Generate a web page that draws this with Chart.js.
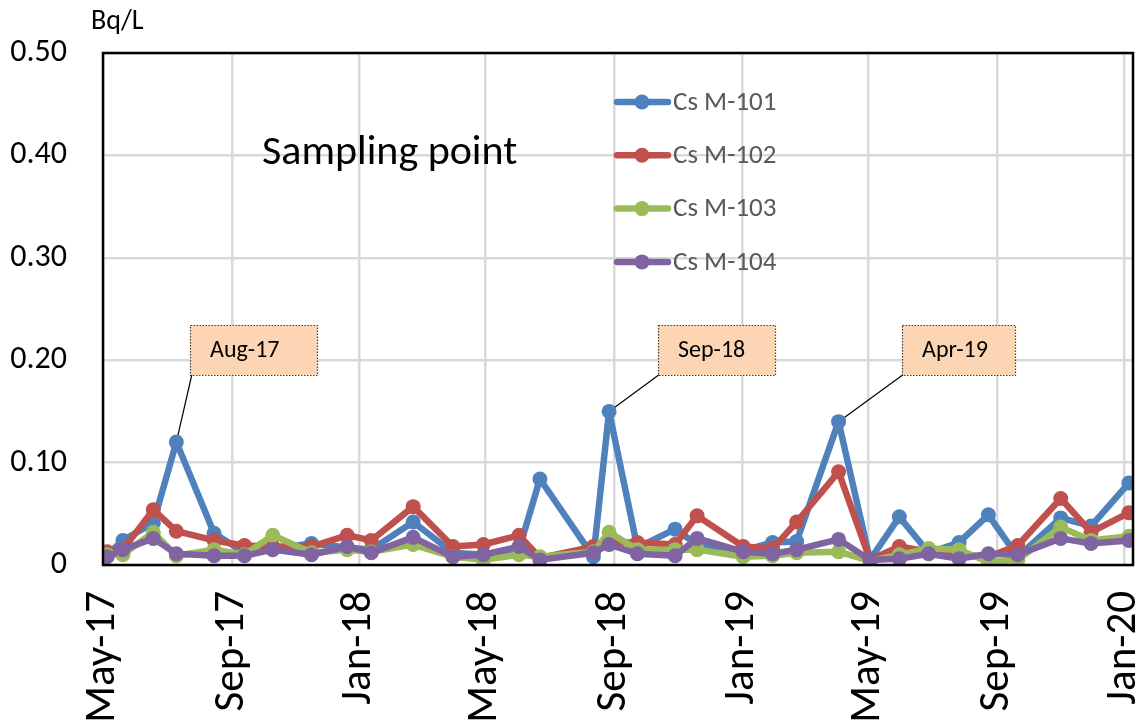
<!DOCTYPE html>
<html lang="en">

<head>
    <meta charset="UTF-8">
    <title>Cs M-101 to M-104</title>
    <style>
        html, body { margin: 0; padding: 0; background: #fff; }
        #wrap { width: 1144px; height: 724px; }
    </style>
</head>

<body>
    <div id="wrap">
        <canvas id="csChart" width="1144" height="724"></canvas>
    </div>
    <script src="https://cdn.jsdelivr.net/npm/chart.js"></script>
    <script>
        // sampling dates
        const sampleDates = ['2017-05-05', '2017-05-20', '2017-06-18', '2017-07-10', '2017-08-15', '2017-09-13',
            '2017-10-10', '2017-11-16', '2017-12-20', '2018-01-12', '2018-02-21', '2018-03-31', '2018-04-29',
            '2018-06-02', '2018-06-22', '2018-08-12', '2018-08-27', '2018-09-23', '2018-10-29', '2018-11-19',
            '2019-01-02', '2019-01-30', '2019-02-22', '2019-04-03', '2019-05-03', '2019-05-31', '2019-06-28',
            '2019-07-27', '2019-08-24', '2019-09-21', '2019-11-01', '2019-11-30', '2020-01-05']

        const csM101 = [0.010, 0.024, 0.041, 0.120, 0.031, 0.012, 0.016, 0.021, 0.017, 0.015, 0.042, 0.012, 0.010,
            0.015, 0.084, 0.008, 0.150, 0.017, 0.035, 0.020, 0.014, 0.022, 0.023, 0.140, 0.005, 0.047, 0.012,
            0.022, 0.049, 0.008, 0.046, 0.038, 0.080]
        const csM102 = [0.013, 0.015, 0.054, 0.033, 0.024, 0.019, 0.018, 0.018, 0.029, 0.024, 0.057, 0.018, 0.020,
            0.029, 0.007, 0.018, 0.022, 0.022, 0.020, 0.048, 0.018, 0.016, 0.042, 0.091, 0.005, 0.018, 0.013,
            0.010, 0.008, 0.019, 0.065, 0.032, 0.051]
        const csM103 = [0.010, 0.010, 0.032, 0.009, 0.015, 0.010, 0.029, 0.012, 0.015, 0.013, 0.020, 0.008, 0.005,
            0.010, 0.008, 0.013, 0.032, 0.015, 0.015, 0.015, 0.008, 0.009, 0.012, 0.013, 0.004, 0.010, 0.016,
            0.015, 0.003, 0.005, 0.037, 0.024, 0.028]
        const csM104 = [0.008, 0.015, 0.026, 0.011, 0.009, 0.009, 0.015, 0.010, 0.018, 0.012, 0.027, 0.008, 0.010,
            0.018, 0.005, 0.012, 0.020, 0.011, 0.009, 0.026, 0.013, 0.011, 0.015, 0.025, 0.005, 0.006, 0.011,
            0.006, 0.011, 0.010, 0.026, 0.021, 0.024]

        const seriesNames = ['Cs M-101', 'Cs M-102', 'Cs M-103', 'Cs M-104']
        const tickLabels = ['May-17', 'Sep-17', 'Jan-18', 'May-18', 'Sep-18', 'Jan-19', 'May-19', 'Sep-19', 'Jan-20']
        const tickDates = ['2017-05-01', '2017-09-01', '2018-01-01', '2018-05-01', '2018-09-01', '2019-01-01',
            '2019-05-01', '2019-09-01', '2020-01-01']
        const yTicks = [0, 0.1, 0.2, 0.3, 0.4, 0.5]

        // callouts on the M-101 peaks: [series index, point index, text]
        const callouts = [[0, 3, 'Aug-17'], [0, 16, 'Sep-18'], [0, 23, 'Apr-19']]

        const colors = ['#4f81bd', '#c0504d', '#9bbb59', '#8064a2']
        const FONT = 'Calibri, Carlito, Lato, sans-serif'

        function toMs(s) {
            let p = s.split('-')
            return Date.UTC(+p[0], +p[1] - 1, +p[2])
        }

        function makeSet(i, values) {
            return {
                label: seriesNames[i],
                data: values.map((v, k) => ({ x: toMs(sampleDates[k]), y: v })),
                borderColor: colors[i],
                backgroundColor: colors[i],
                pointBackgroundColor: colors[i],
                pointBorderWidth: 0,
                pointRadius: 7.5,
                borderWidth: 6.5,
                borderJoinStyle: 'round',
                borderCapStyle: 'round',
                tension: 0,
                order: 4 - i
            }
        }

        // box position for each callout (pixels): left, top, width, height
        const calloutBoxes = [[190, 325, 127, 50], [658, 325, 117, 50], [902, 325, 113, 50]]

        const extras = {
            id: 'extras',
            beforeDatasetsDraw(chart) {
                const ctx = chart.ctx
                ctx.save()
                ctx.strokeStyle = '#000'
                ctx.lineWidth = 1.2
                callouts.forEach((c, n) => {
                    const el = chart.getDatasetMeta(c[0]).data[c[1]]
                    const b = calloutBoxes[n]
                    ctx.beginPath()
                    ctx.moveTo(b[0] + 2, b[1] + b[3] - 1)
                    ctx.lineTo(el.x, el.y)
                    ctx.stroke()
                })
                ctx.restore()
            },
            afterDatasetsDraw(chart) {
                const ctx = chart.ctx
                const a = chart.chartArea
                ctx.save()
                // frame
                ctx.strokeStyle = '#000'
                ctx.lineWidth = 2.5
                ctx.strokeRect(a.left, a.top, a.right - a.left, a.bottom - a.top)

                // callout boxes
                callouts.forEach((c, n) => {
                    const b = calloutBoxes[n]
                    ctx.fillStyle = '#fcd5b4'
                    ctx.fillRect(b[0], b[1], b[2], b[3])
                    ctx.setLineDash([1.5, 1.5])
                    ctx.strokeStyle = '#404040'
                    ctx.lineWidth = 1.2
                    ctx.strokeRect(b[0] + 0.5, b[1] + 0.5, b[2], b[3])
                    ctx.setLineDash([])
                    ctx.fillStyle = '#000'
                    ctx.font = '24px ' + FONT
                    ctx.textBaseline = 'middle'
                    ctx.textAlign = 'left'
                    ctx.fillText(c[2], b[0] + 20, b[1] + b[3] / 2 + 1)
                })

                // legend inside the plot
                ctx.font = '27px ' + FONT
                seriesNames.forEach((name, i) => {
                    const y = 102 + i * 53.3
                    ctx.strokeStyle = colors[i]
                    ctx.lineWidth = 6.5
                    ctx.lineCap = 'round'
                    ctx.beginPath()
                    ctx.moveTo(617, y)
                    ctx.lineTo(668, y)
                    ctx.stroke()
                    ctx.fillStyle = colors[i]
                    ctx.beginPath()
                    ctx.arc(642, y, 7.5, 0, Math.PI * 2)
                    ctx.fill()
                    ctx.fillStyle = '#595959'
                    ctx.textAlign = 'left'
                    ctx.textBaseline = 'middle'
                    ctx.fillText(name, 673, y + 1)
                })

                // title and unit
                ctx.fillStyle = '#000'
                ctx.font = '42px ' + FONT
                ctx.fillText('Sampling point', 262, 153)
                ctx.font = '28px ' + FONT
                ctx.fillText('Bq/L', 91, 22)
                ctx.restore()
            }
        }

        new Chart(document.getElementById('csChart'), {
            type: 'line',
            data: {
                datasets: [makeSet(0, csM101), makeSet(1, csM102), makeSet(2, csM103), makeSet(3, csM104)]
            },
            options: {
                responsive: false,
                animation: false,
                layout: { padding: { top: 53, right: 11, left: 0, bottom: 0 } },
                plugins: {
                    legend: { display: false },
                    tooltip: { enabled: false }
                },
                scales: {
                    x: {
                        type: 'linear',
                        min: toMs('2017-05-01'),
                        max: toMs('2020-01-09'),
                        afterBuildTicks: (axis) => {
                            axis.ticks = tickDates.map(d => ({ value: toMs(d) }))
                        },
                        afterFit: (scale) => {
                            scale.height = 724 - 565
                            scale.paddingLeft = 0
                            scale.paddingRight = 0
                        },
                        grid: { color: '#d9d9d9', lineWidth: 2.5, drawTicks: false },
                        border: { display: false },
                        ticks: {
                            minRotation: 90,
                            maxRotation: 90,
                            autoSkip: false,
                            padding: 26,
                            color: '#000',
                            font: { family: FONT, size: 43 },
                            callback: (v, i) => tickLabels[i]
                        }
                    },
                    y: {
                        min: 0,
                        max: 0.5,
                        afterBuildTicks: (axis) => {
                            axis.ticks = yTicks.map(v => ({ value: v }))
                        },
                        afterFit: (scale) => {
                            scale.width = 103
                            scale.paddingTop = 0
                            scale.paddingBottom = 0
                        },
                        grid: { color: '#d9d9d9', lineWidth: 2.5, drawTicks: false },
                        border: { display: false },
                        ticks: {
                            padding: 36,
                            color: '#000',
                            font: { family: FONT, size: 32 },
                            callback: (v) => v === 0 ? '0' : v.toFixed(2)
                        }
                    }
                }
            },
            plugins: [extras]
        })
    </script>
</body>

</html>
